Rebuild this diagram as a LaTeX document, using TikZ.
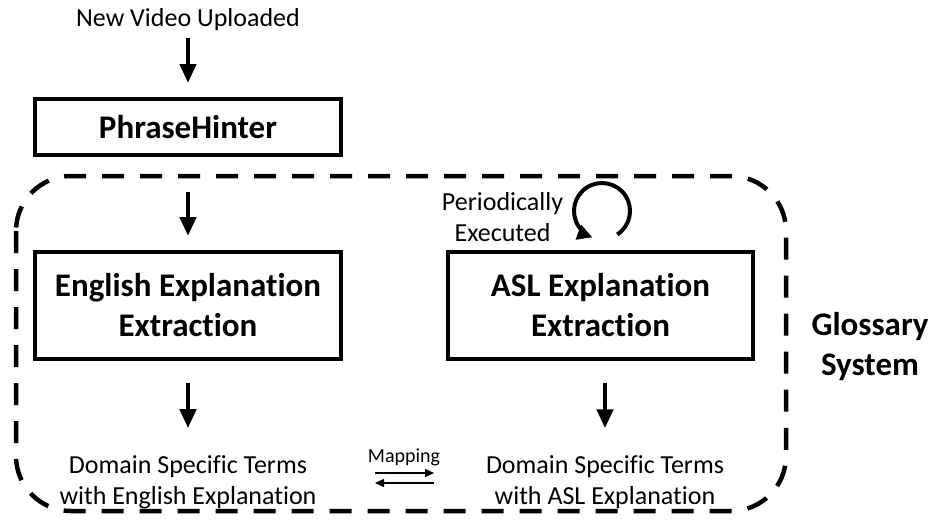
\documentclass[tikz,border=0pt]{standalone}
\usepackage{fontspec}
\setmainfont{Carlito}[Ligatures=NoCommon]
\usetikzlibrary{arrows.meta,positioning}
\definecolor{gsInk}{HTML}{000000}
\tikzset{
  txt/.style={inner sep=0pt, align=center, text=gsInk, font=\fontsize{26}{31}\selectfont},
  btxt/.style={inner sep=0pt, align=center, text=gsInk, font=\bfseries\fontsize{33}{40}\selectfont},
  blk/.style={draw=gsInk, line width=4pt, inner sep=0pt, align=center, font=\bfseries\fontsize{33}{40}\selectfont},
  grp/.style={draw=gsInk, line width=4.5pt, dash pattern=on 22pt off 16pt, rounded corners=55pt},
  arr/.style={-{Triangle[length=19pt,width=16pt]}, line width=4.5pt, draw=gsInk},
  cyc/.style={-{Triangle[length=15pt,width=15pt]}, line width=4pt, draw=gsInk},
  marr/.style={-{Triangle[length=9pt,width=8pt]}, line width=1.5pt, draw=gsInk},
}

\begin{document}
\begin{tikzpicture}[x=1pt,y=-1pt]
  \useasboundingbox (0,0) rectangle (933,522);
  % glossary frame
  \draw[grp] (16,176) rectangle (786,511);
  % pipeline
  \node[txt] (upload) at (188,20) {New Video Uploaded};
  \node[blk, minimum width=306pt, minimum height=56pt] (hinter) at (188,127) {PhraseHinter};
  \node[blk, minimum width=306pt, minimum height=107pt] (engx) at (188,305.5) {English Explanation\\Extraction};
  \node[blk, minimum width=305pt, minimum height=107pt] (aslx) at (600.5,305.5) {ASL Explanation\\Extraction};
  \node[txt] (engterms) at (188,482) {Domain Specific Terms\\with English Explanation};
  \node[txt] (aslterms) at (605,482) {Domain Specific Terms\\with ASL Explanation};
  \node[txt] (periodic) at (502.5,217) {Periodically\\Executed};
  \node[btxt] (glossary) at (870,347) {Glossary\\System};
  \node[txt, font=\fontsize{20}{24}\selectfont] (maplbl) at (404,457) {Mapping};
  % arrows
  \draw[arr, shorten <=7pt, shorten >=14pt] (upload) -- (hinter);
  \draw[arr, shorten <=35pt, shorten >=14pt] (hinter) -- (engx);
  \draw[arr, shorten <=22pt, shorten >=27pt] (engx) -- (engterms);
  \draw[arr, shorten <=22pt, shorten >=27pt] (aslterms.north |- aslx.south) -- (aslterms.north);
  % periodic loop
  \coordinate (loopc) at (602,211);
  \draw[cyc] ([shift={(57:28)}]loopc) arc[start angle=57, end angle=-250, radius=28];
  % mapping
  \coordinate (mapRa) at (375,473);
  \coordinate (mapRb) at (434,473);
  \coordinate (mapLa) at (434,483);
  \coordinate (mapLb) at (375,483);
  \draw[marr] (mapRa) -- (mapRb);
  \draw[marr] (mapLa) -- (mapLb);
\end{tikzpicture}
\end{document}
